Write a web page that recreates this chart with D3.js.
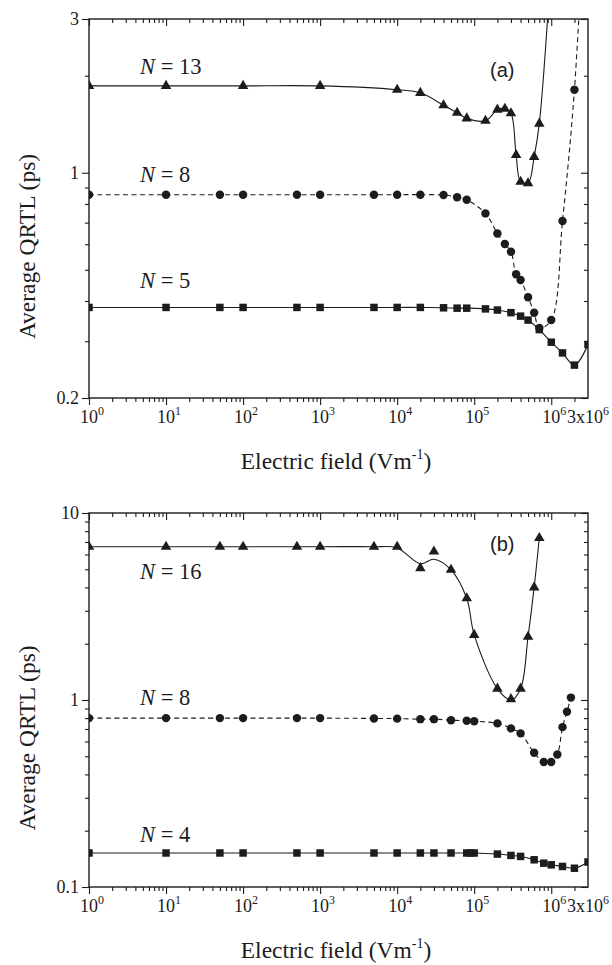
<!DOCTYPE html>
<html>
<head>
<meta charset="utf-8">
<script src="https://cdn.jsdelivr.net/npm/d3@7"></script>
<style>
  body { margin: 0; background: #fff; }
  svg { display: block; }
</style>
</head>
<body>
<div id="chart"></div>
<script>
// ---- Data: panel (a) ----
const aSquareX = [1, 10, 50, 100, 500, 1e3, 5e3, 1e4, 2e4, 4e4, 6e4, 8e4, 1.4e5, 2e5, 3e5, 4e5, 5e5, 7e5, 1e6, 1.4e6, 2e6, 3e6];
const aSquareY = [0.382, 0.382, 0.382, 0.382, 0.382, 0.382, 0.382, 0.382, 0.382, 0.381, 0.380, 0.380, 0.378, 0.375, 0.368, 0.359, 0.349, 0.326, 0.298, 0.276, 0.253, 0.293];

const aCircleX = [1, 10, 50, 100, 500, 1e3, 5e3, 1e4, 2e4, 4e4, 6e4, 8e4, 1.4e5, 2e5, 2.5e5, 3e5, 3.5e5, 4e5, 5e5, 6e5, 7e5, 1e6, 1.4e6, 2e6, 3e6];
const aCircleY = [0.855, 0.855, 0.855, 0.855, 0.855, 0.855, 0.855, 0.855, 0.855, 0.853, 0.84, 0.824, 0.748, 0.648, 0.601, 0.569, 0.484, 0.465, 0.411, 0.368, 0.33, 0.349, 0.708, 1.81, 11];

const aTriX = [1, 10, 100, 1e3, 1e4, 2e4, 4e4, 6e4, 8e4, 1.4e5, 2e5, 2.5e5, 3e5, 3.5e5, 4e5, 5e5, 6e5, 7e5, 1e6];
const aTriY = [1.86, 1.86, 1.86, 1.86, 1.81, 1.77, 1.62, 1.535, 1.475, 1.45, 1.57, 1.58, 1.53, 1.135, 0.938, 0.928, 1.12, 1.42, 4.5];

// ---- Data: panel (b) ----
const bSquareX = [1, 10, 50, 100, 500, 1e3, 5e3, 1e4, 2e4, 3e4, 5e4, 8e4, 9e4, 1e5, 2e5, 3e5, 4e5, 6e5, 8e5, 1e6, 1.4e6, 2e6, 3e6];
const bSquareY = [0.152, 0.152, 0.152, 0.152, 0.152, 0.152, 0.152, 0.152, 0.152, 0.152, 0.152, 0.152, 0.152, 0.152, 0.150, 0.1475, 0.1457, 0.1398, 0.1341, 0.1314, 0.1288, 0.126, 0.136];

const bCircleX = [1, 10, 50, 100, 500, 1e3, 5e3, 1e4, 2e4, 3e4, 5e4, 8e4, 1e5, 2e5, 3e5, 4e5, 6e5, 8e5, 1e6, 1.2e6, 1.4e6, 1.6e6, 1.8e6];
const bCircleY = [0.80, 0.80, 0.80, 0.80, 0.80, 0.80, 0.797, 0.795, 0.79, 0.79, 0.78, 0.775, 0.77, 0.75, 0.705, 0.663, 0.522, 0.466, 0.466, 0.511, 0.716, 0.866, 1.03];

const bTriX = [1, 10, 50, 100, 500, 1e3, 5e3, 1e4, 2e4, 3e4, 5e4, 8e4, 1e5, 2e5, 3e5, 4e5, 5e5, 6e5, 7e5];
const bTriY = [6.6, 6.6, 6.6, 6.6, 6.6, 6.6, 6.6, 6.6, 5.07, 6.22, 4.97, 3.5, 2.23, 1.15, 1.01, 1.15, 2.18, 4.0, 7.35];
// fitted curve through the N = 16 points
const bTriFitX = [1, 1e3, 5e3, 1e4, 2e4, 3e4, 5e4, 8e4, 1e5, 2e5, 3e5, 4e5, 5e5, 6e5, 7e5];
const bTriFitY = [6.6, 6.6, 6.6, 6.5, 5.35, 5.66, 4.97, 3.5, 2.23, 1.15, 1.0, 1.15, 2.18, 4.0, 7.35];

// axis labels
const xMajor = [1, 10, 100, 1e3, 1e4, 1e5, 1e6];
const xMajorExp = ['0', '1', '2', '3', '4', '5', '6'];
const aYLabels = [3, 1, 0.2];
const bYLabels = [10, 1, 0.1];

const width = 612;
const height = 965;
const ink = '#1c1c1c';
const serif = '"Liberation Serif", "Times New Roman", serif';
const sans = '"Liberation Sans", Arial, sans-serif';

const svg = d3.select('#chart').append('svg')
  .attr('width', width)
  .attr('height', height)
  .attr('viewBox', [0, 0, width, height]);

const x = d3.scaleLog().domain([1, 3e6]).range([89, 588]);

// minor x ticks 2..9 x 10^d inside domain
const xMinor = [];
for (let d = 0; d <= 6; d += 1) {
  for (let k = 2; k <= 9; k += 1) {
    const v = k * 10 ** d;
    if (v < 3e6) xMinor.push(v);
  }
}

function drawPanel(p) {
  const y = d3.scaleLog().domain(p.yDomain).range([p.bottom, p.top]);
  const g = svg.append('g');

  // minor y ticks
  const yMinor = [];
  const d0 = Math.floor(Math.log10(p.yDomain[0]));
  const d1 = Math.ceil(Math.log10(p.yDomain[1]));
  for (let d = d0; d <= d1; d += 1) {
    for (let k = 2; k <= 9; k += 1) {
      const v = k * 10 ** d;
      if (v > p.yDomain[0] * 1.001 && v < p.yDomain[1] * 0.999) yMinor.push(v);
    }
  }

  const axisGroups = [
    // bottom (outward)
    [d3.axisBottom(x), `translate(0,${p.bottom})`, xMajor, xMinor],
    // top (inward)
    [d3.axisBottom(x), `translate(0,${p.top})`, xMajor, xMinor],
    // left (outward)
    [d3.axisLeft(y), `translate(${x.range()[0]},0)`, p.yLabels, yMinor],
    // right (inward)
    [d3.axisLeft(y), `translate(${x.range()[1]},0)`, p.yLabels, yMinor],
  ];
  axisGroups.forEach(([ax, tr, major, minor]) => {
    const a1 = g.append('g').attr('transform', tr)
      .call(ax.tickValues(major).tickSize(7).tickSizeOuter(0).tickFormat(''));
    const a2 = g.append('g').attr('transform', tr)
      .call(ax.tickValues(minor).tickSize(4).tickSizeOuter(0).tickFormat(''));
    [a1, a2].forEach((a) => {
      a.select('.domain').remove();
      a.selectAll('line').attr('stroke', ink).attr('stroke-width', 1.1);
    });
  });

  // frame
  g.append('rect')
    .attr('x', x.range()[0])
    .attr('y', p.top)
    .attr('width', x.range()[1] - x.range()[0])
    .attr('height', p.bottom - p.top)
    .attr('fill', 'none')
    .attr('stroke', ink)
    .attr('stroke-width', 1.4);

  // y tick labels
  g.selectAll('.ylab').data(p.yLabels).join('text')
    .attr('x', x.range()[0] - 10)
    .attr('y', (d) => y(d) + 6)
    .attr('text-anchor', 'end')
    .attr('font-family', serif)
    .attr('font-size', 18)
    .attr('fill', ink)
    .text((d) => d);

  // x tick labels: "10" centred on the tick, exponent hanging right
  xMajor.forEach((v, i) => {
    const t = g.append('text')
      .attr('x', x(v) - 9)
      .attr('y', p.bottom + 25)
      .attr('font-family', serif)
      .attr('font-size', 18)
      .attr('fill', ink);
    t.append('tspan').text('10');
    t.append('tspan').attr('dy', -8).attr('font-size', 12).text(xMajorExp[i]);
  });
  const t3 = g.append('text')
    .attr('x', x(3e6) - 21)
    .attr('y', p.bottom + 25)
    .attr('font-family', serif)
    .attr('font-size', 18)
    .attr('fill', ink);
  t3.append('tspan').text('3x10');
  t3.append('tspan').attr('dy', -8).attr('font-size', 12).text('6');

  // axis titles
  const xt = g.append('text')
    .attr('x', 336)
    .attr('y', p.bottom + 71)
    .attr('text-anchor', 'middle')
    .attr('font-family', serif)
    .attr('font-size', 23.5)
    .attr('fill', ink);
  xt.append('tspan').text('Electric field (Vm');
  xt.append('tspan').attr('dy', -10).attr('font-size', 14).text('-1');
  xt.append('tspan').attr('dy', 10).text(')');

  g.append('text')
    .attr('transform', `translate(35,${(p.top + p.bottom) / 2 + 38}) rotate(-90)`)
    .attr('text-anchor', 'middle')
    .attr('font-family', serif)
    .attr('font-size', 23.5)
    .attr('fill', ink)
    .text('Average QRTL (ps)');

  // clip
  const clipId = `clip-${p.id}`;
  svg.append('clipPath').attr('id', clipId)
    .append('rect')
    .attr('x', x.range()[0])
    .attr('y', p.top)
    .attr('width', x.range()[1] - x.range()[0])
    .attr('height', p.bottom - p.top);

  const plot = g.append('g').attr('clip-path', `url(#${clipId})`);

  const line = d3.line()
    .x((d) => x(d[0]))
    .y((d) => y(d[1]))
    .curve(d3.curveCatmullRom.alpha(0.5));

  p.series.forEach((s) => {
    const fx = s.fitX || s.xs;
    const fy = s.fitY || s.ys;
    const pts = fx.map((v, i) => [v, fy[i]]);
    plot.append('path')
      .datum(pts)
      .attr('d', line)
      .attr('fill', 'none')
      .attr('stroke', ink)
      .attr('stroke-width', 1.1)
      .attr('stroke-dasharray', s.dashed ? '5,3.5' : null);
  });
  p.series.forEach((s) => {
    const pts = s.xs.map((v, i) => [v, s.ys[i]]);
    plot.selectAll(null).data(pts).join('path')
      .attr('transform', (d) => `translate(${x(d[0])},${y(d[1])})`)
      .attr('d', d3.symbol(s.symbol, s.size))
      .attr('fill', ink);
  });

  // N labels
  p.nLabels.forEach((n) => {
    const t = g.append('text')
      .attr('x', 140)
      .attr('y', n.y)
      .attr('font-family', serif)
      .attr('font-size', 22.5)
      .attr('fill', ink);
    t.append('tspan').attr('font-style', 'italic').text('N');
    t.append('tspan').text(` = ${n.n}`);
  });

  g.append('text')
    .attr('x', 490)
    .attr('y', p.letterY)
    .attr('font-family', sans)
    .attr('font-size', 20)
    .attr('fill', ink)
    .text(p.letter);
}

drawPanel({
  id: 'a',
  top: 19,
  bottom: 398,
  yDomain: [0.2, 3],
  yLabels: aYLabels,
  letter: '(a)',
  letterY: 77,
  nLabels: [{ n: 13, y: 74 }, { n: 8, y: 182 }, { n: 5, y: 288 }],
  series: [
    { xs: aCircleX, ys: aCircleY, dashed: true, symbol: d3.symbolCircle, size: 56 },
    { xs: aSquareX, ys: aSquareY, dashed: false, symbol: d3.symbolSquare, size: 56 },
    { xs: aTriX, ys: aTriY, dashed: false, symbol: d3.symbolTriangle, size: 48 },
  ],
});

drawPanel({
  id: 'b',
  top: 513,
  bottom: 887,
  yDomain: [0.1, 10],
  yLabels: bYLabels,
  letter: '(b)',
  letterY: 551,
  nLabels: [{ n: 16, y: 579 }, { n: 8, y: 705 }, { n: 4, y: 842 }],
  series: [
    { xs: bCircleX, ys: bCircleY, dashed: true, symbol: d3.symbolCircle, size: 56 },
    { xs: bSquareX, ys: bSquareY, dashed: false, symbol: d3.symbolSquare, size: 56 },
    { xs: bTriX, ys: bTriY, fitX: bTriFitX, fitY: bTriFitY, dashed: false, symbol: d3.symbolTriangle, size: 48 },
  ],
});
</script>
</body>
</html>
